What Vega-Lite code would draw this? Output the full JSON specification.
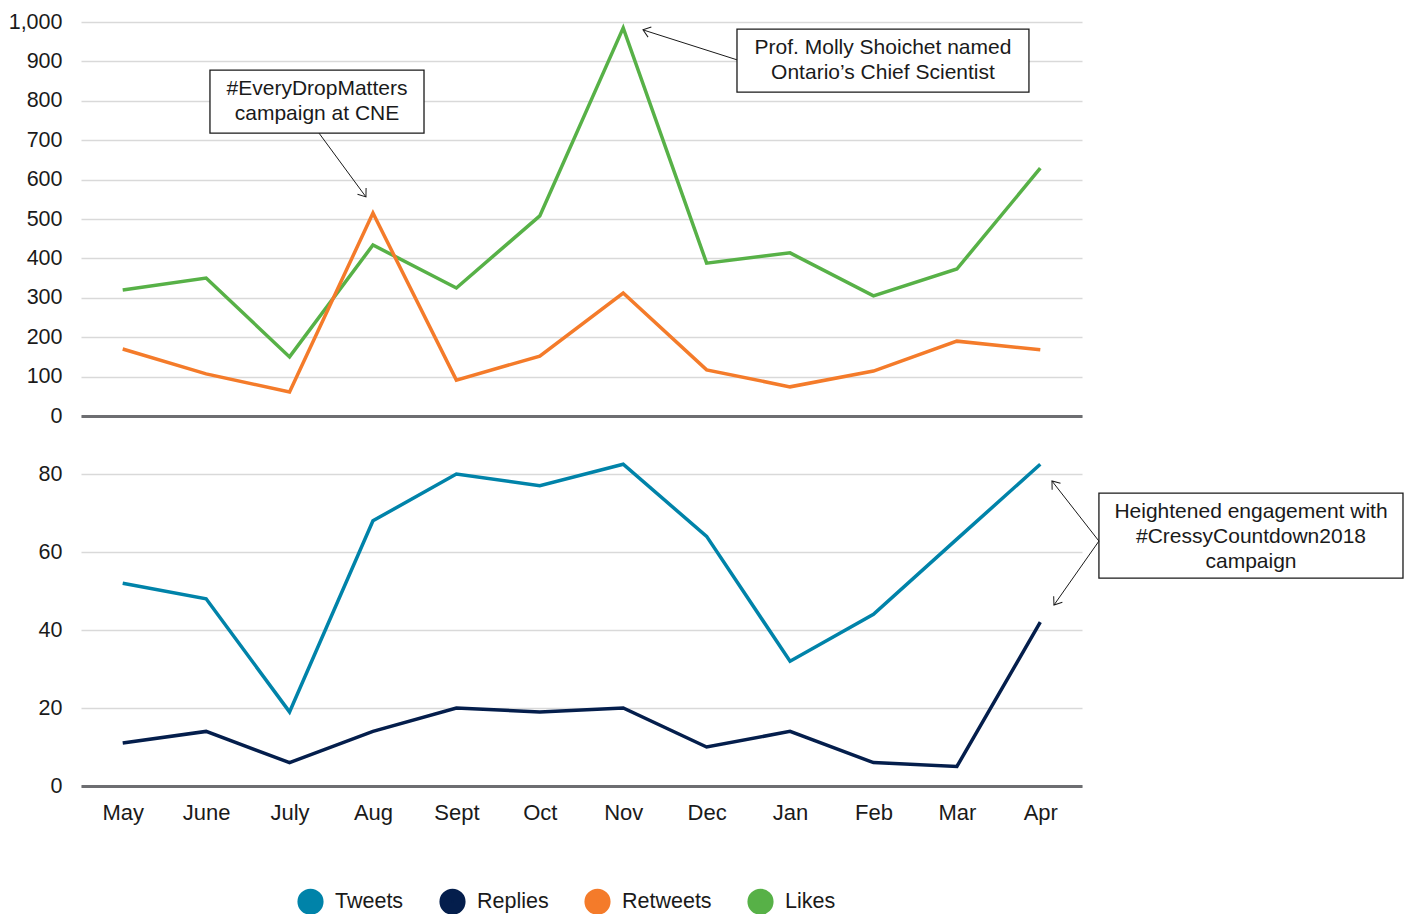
{
  "$schema": "https://vega.github.io/schema/vega-lite/v6.json",
  "padding": {"left": 8, "top": 11, "right": 0, "bottom": 0},
  "background": "white",
  "config": {
    "font": "Liberation Sans",
    "view": {"stroke": null},
    "axis": {"labelColor": "#1a1a1a", "labelFontSize": 21.5, "ticks": false, "title": null, "gridColor": "#d9d9d9", "gridWidth": 1.5, "labelOverlap": false},
    "legend": {"orient": "none", "legendX": 216, "legendY": 866, "direction": "horizontal", "symbolType": "circle", "symbolSize": 200, "symbolStrokeWidth": 12, "labelFontSize": 21.5, "labelColor": "#1a1a1a", "columnPadding": 17, "title": null, "labelOffset": 11}
  },
  "datasets": {
    "engagement": [
      {"month": "May", "series": "Likes", "value": 320},
      {"month": "June", "series": "Likes", "value": 350},
      {"month": "July", "series": "Likes", "value": 150},
      {"month": "Aug", "series": "Likes", "value": 434},
      {"month": "Sept", "series": "Likes", "value": 325},
      {"month": "Oct", "series": "Likes", "value": 508},
      {"month": "Nov", "series": "Likes", "value": 985},
      {"month": "Dec", "series": "Likes", "value": 388},
      {"month": "Jan", "series": "Likes", "value": 414},
      {"month": "Feb", "series": "Likes", "value": 305},
      {"month": "Mar", "series": "Likes", "value": 373},
      {"month": "Apr", "series": "Likes", "value": 629},
      {"month": "May", "series": "Retweets", "value": 170},
      {"month": "June", "series": "Retweets", "value": 107},
      {"month": "July", "series": "Retweets", "value": 61},
      {"month": "Aug", "series": "Retweets", "value": 515},
      {"month": "Sept", "series": "Retweets", "value": 91},
      {"month": "Oct", "series": "Retweets", "value": 152},
      {"month": "Nov", "series": "Retweets", "value": 312},
      {"month": "Dec", "series": "Retweets", "value": 117},
      {"month": "Jan", "series": "Retweets", "value": 74},
      {"month": "Feb", "series": "Retweets", "value": 114},
      {"month": "Mar", "series": "Retweets", "value": 190},
      {"month": "Apr", "series": "Retweets", "value": 168}
    ],
    "activity": [
      {"month": "May", "series": "Tweets", "value": 52},
      {"month": "June", "series": "Tweets", "value": 48},
      {"month": "July", "series": "Tweets", "value": 19},
      {"month": "Aug", "series": "Tweets", "value": 68},
      {"month": "Sept", "series": "Tweets", "value": 80},
      {"month": "Oct", "series": "Tweets", "value": 77},
      {"month": "Nov", "series": "Tweets", "value": 82.5},
      {"month": "Dec", "series": "Tweets", "value": 64},
      {"month": "Jan", "series": "Tweets", "value": 32},
      {"month": "Feb", "series": "Tweets", "value": 44},
      {"month": "Mar", "series": "Tweets", "value": 63.3},
      {"month": "Apr", "series": "Tweets", "value": 82.5},
      {"month": "May", "series": "Replies", "value": 11},
      {"month": "June", "series": "Replies", "value": 14},
      {"month": "July", "series": "Replies", "value": 6},
      {"month": "Aug", "series": "Replies", "value": 14},
      {"month": "Sept", "series": "Replies", "value": 20},
      {"month": "Oct", "series": "Replies", "value": 19},
      {"month": "Nov", "series": "Replies", "value": 20},
      {"month": "Dec", "series": "Replies", "value": 10},
      {"month": "Jan", "series": "Replies", "value": 14},
      {"month": "Feb", "series": "Replies", "value": 6},
      {"month": "Mar", "series": "Replies", "value": 5},
      {"month": "Apr", "series": "Replies", "value": 42}
    ]
  },
  "spacing": 8,
  "resolve": {"scale": {"color": "shared"}},
  "vconcat": [
    {
      "width": 1001,
      "height": 394,
      "resolve": {"scale": {"x": "independent"}},
      "layer": [
        {
          "data": {"name": "engagement"},
          "mark": {"type": "line", "strokeWidth": 3.5},
          "encoding": {
            "x": {"field": "month", "type": "ordinal", "sort": ["May","June","July","Aug","Sept","Oct","Nov","Dec","Jan","Feb","Mar","Apr"], "scale": {"type": "point", "padding": 0.5}, "axis": {"labels": false, "ticks": false, "grid": false, "domain": true, "domainColor": "#6d6e71", "domainWidth": 3, "title": null}},
            "y": {"field": "value", "type": "quantitative", "scale": {"domain": [0, 1000], "nice": false}, "axis": {"values": [0,100,200,300,400,500,600,700,800,900,1000], "format": ",d", "domain": false, "labelPadding": 19, "labelOverlap": false, "title": null}},
            "color": {"field": "series", "type": "nominal", "sort": ["Tweets","Replies","Retweets","Likes"], "scale": {"domain": ["Tweets","Replies","Retweets","Likes"], "range": ["#0083A9","#041E4C","#F47B2A","#57B147"]}, "legend": {"encode": {"symbols": {"update": {"fill": {"scale": "color", "field": "value"}}}}}}
          }
        },
        {
          "data": {"values": [{"x": 1.046, "x2": 3.612, "y": 718, "y2": 878}, {"x": 7.364, "x2": 10.864, "y": 822, "y2": 982}]},
          "mark": {"type": "rect", "fill": "white", "stroke": "#1a1a1a", "strokeWidth": 1.3},
          "encoding": {
            "x": {"field": "x", "type": "quantitative", "scale": {"domain": [-0.5, 11.5], "nice": false, "zero": false}, "axis": null},
            "x2": {"field": "x2"},
            "y": {"field": "y", "type": "quantitative", "scale": {"domain": [0, 1000], "nice": false}, "axis": {"values": [0,100,200,300,400,500,600,700,800,900,1000], "format": ",d", "domain": false, "labelPadding": 19, "labelOverlap": false, "title": null}},
            "y2": {"field": "y2"}
          }
        },
        {
          "data": {"values": [
            {"x": 2.329, "y": 830, "text": "#EveryDropMatters"},
            {"x": 2.329, "y": 766, "text": "campaign at CNE"},
            {"x": 9.114, "y": 934, "text": "Prof. Molly Shoichet named"},
            {"x": 9.114, "y": 871, "text": "Ontario’s Chief Scientist"}
          ]},
          "mark": {"type": "text", "fontSize": 21, "align": "center", "baseline": "middle", "color": "#1a1a1a"},
          "encoding": {
            "x": {"field": "x", "type": "quantitative", "scale": {"domain": [-0.5, 11.5], "nice": false, "zero": false}, "axis": null},
            "y": {"field": "y", "type": "quantitative", "scale": {"domain": [0, 1000], "nice": false}, "axis": {"values": [0,100,200,300,400,500,600,700,800,900,1000], "format": ",d", "domain": false, "labelPadding": 19, "labelOverlap": false, "title": null}},
            "text": {"field": "text"}
          }
        },
        {
          "data": {"values": [{"x": 2.353, "y": 718, "x2": 2.916, "y2": 556}, {"x": 7.364, "y": 904, "x2": 6.237, "y2": 980}]},
          "mark": {"type": "rule", "stroke": "#1a1a1a", "strokeWidth": 1},
          "encoding": {
            "x": {"field": "x", "type": "quantitative", "scale": {"domain": [-0.5, 11.5], "nice": false, "zero": false}, "axis": null},
            "x2": {"field": "x2"},
            "y": {"field": "y", "type": "quantitative", "scale": {"domain": [0, 1000], "nice": false}, "axis": {"values": [0,100,200,300,400,500,600,700,800,900,1000], "format": ",d", "domain": false, "labelPadding": 19, "labelOverlap": false, "title": null}},
            "y2": {"field": "y2"}
          }
        },
        {
          "data": {"values": [{"x": 2.916, "y": 556}]},
          "mark": {"type": "point", "shape": "M-1,-0.75L0,0L-1,0.75", "filled": false, "stroke": "#1a1a1a", "strokeWidth": 1, "size": 200, "angle": 54, "opacity": 1},
          "encoding": {
            "x": {"field": "x", "type": "quantitative", "scale": {"domain": [-0.5, 11.5], "nice": false, "zero": false}, "axis": null},
            "y": {"field": "y", "type": "quantitative", "scale": {"domain": [0, 1000], "nice": false}, "axis": {"values": [0,100,200,300,400,500,600,700,800,900,1000], "format": ",d", "domain": false, "labelPadding": 19, "labelOverlap": false, "title": null}}
          }
        },
        {
          "data": {"values": [{"x": 6.237, "y": 980}]},
          "mark": {"type": "point", "shape": "M-1,-0.75L0,0L-1,0.75", "filled": false, "stroke": "#1a1a1a", "strokeWidth": 1, "size": 200, "angle": 198, "opacity": 1},
          "encoding": {
            "x": {"field": "x", "type": "quantitative", "scale": {"domain": [-0.5, 11.5], "nice": false, "zero": false}, "axis": null},
            "y": {"field": "y", "type": "quantitative", "scale": {"domain": [0, 1000], "nice": false}, "axis": {"values": [0,100,200,300,400,500,600,700,800,900,1000], "format": ",d", "domain": false, "labelPadding": 19, "labelOverlap": false, "title": null}}
          }
        }
      ]
    },
    {
      "width": 1001,
      "height": 351,
      "resolve": {"scale": {"x": "independent"}},
      "layer": [
        {
          "data": {"name": "activity"},
          "mark": {"type": "line", "strokeWidth": 3.5},
          "encoding": {
            "x": {"field": "month", "type": "ordinal", "sort": ["May","June","July","Aug","Sept","Oct","Nov","Dec","Jan","Feb","Mar","Apr"], "scale": {"type": "point", "padding": 0.5}, "axis": {"labelAngle": 0, "labelFontSize": 22, "labelPadding": 16, "ticks": false, "grid": false, "domain": true, "domainColor": "#6d6e71", "domainWidth": 3, "title": null}},
            "y": {"field": "value", "type": "quantitative", "scale": {"domain": [0, 90], "nice": false}, "axis": {"values": [0,20,40,60,80], "domain": false, "labelPadding": 19, "title": null}},
            "color": {"field": "series", "type": "nominal", "sort": ["Tweets","Replies","Retweets","Likes"], "scale": {"domain": ["Tweets","Replies","Retweets","Likes"], "range": ["#0083A9","#041E4C","#F47B2A","#57B147"]}, "legend": {"encode": {"symbols": {"update": {"fill": {"scale": "color", "field": "value"}}}}}}
          }
        },
        {
          "data": {"values": [{"x": 11.703, "x2": 15.348, "y": 53.3, "y2": 75.1}]},
          "mark": {"type": "rect", "fill": "white", "stroke": "#1a1a1a", "strokeWidth": 1.3},
          "encoding": {
            "x": {"field": "x", "type": "quantitative", "scale": {"domain": [-0.5, 11.5], "nice": false, "zero": false}, "axis": null},
            "x2": {"field": "x2"},
            "y": {"field": "y", "type": "quantitative", "scale": {"domain": [0, 90], "nice": false}, "axis": {"values": [0,20,40,60,80], "domain": false, "labelPadding": 19, "title": null}},
            "y2": {"field": "y2"}
          }
        },
        {
          "data": {"values": [
            {"x": 13.526, "y": 70.3, "text": "Heightened engagement with"},
            {"x": 13.526, "y": 63.8, "text": "#CressyCountdown2018"},
            {"x": 13.526, "y": 57.4, "text": "campaign"}
          ]},
          "mark": {"type": "text", "fontSize": 21, "align": "center", "baseline": "middle", "color": "#1a1a1a"},
          "encoding": {
            "x": {"field": "x", "type": "quantitative", "scale": {"domain": [-0.5, 11.5], "nice": false, "zero": false}, "axis": null},
            "y": {"field": "y", "type": "quantitative", "scale": {"domain": [0, 90], "nice": false}, "axis": {"values": [0,20,40,60,80], "domain": false, "labelPadding": 19, "title": null}},
            "text": {"field": "text"}
          }
        },
        {
          "data": {"values": [{"x": 11.703, "y": 62.8, "x2": 11.14, "y2": 78.2}, {"x": 11.703, "y": 62.8, "x2": 11.164, "y2": 46.4}]},
          "mark": {"type": "rule", "stroke": "#1a1a1a", "strokeWidth": 1},
          "encoding": {
            "x": {"field": "x", "type": "quantitative", "scale": {"domain": [-0.5, 11.5], "nice": false, "zero": false}, "axis": null},
            "x2": {"field": "x2"},
            "y": {"field": "y", "type": "quantitative", "scale": {"domain": [0, 90], "nice": false}, "axis": {"values": [0,20,40,60,80], "domain": false, "labelPadding": 19, "title": null}},
            "y2": {"field": "y2"}
          }
        },
        {
          "data": {"values": [{"x": 11.14, "y": 78.2}]},
          "mark": {"type": "point", "shape": "M-1,-0.75L0,0L-1,0.75", "filled": false, "stroke": "#1a1a1a", "strokeWidth": 1, "size": 200, "angle": 232, "opacity": 1},
          "encoding": {
            "x": {"field": "x", "type": "quantitative", "scale": {"domain": [-0.5, 11.5], "nice": false, "zero": false}, "axis": null},
            "y": {"field": "y", "type": "quantitative", "scale": {"domain": [0, 90], "nice": false}, "axis": {"values": [0,20,40,60,80], "domain": false, "labelPadding": 19, "title": null}}
          }
        },
        {
          "data": {"values": [{"x": 11.164, "y": 46.4}]},
          "mark": {"type": "point", "shape": "M-1,-0.75L0,0L-1,0.75", "filled": false, "stroke": "#1a1a1a", "strokeWidth": 1, "size": 200, "angle": 125, "opacity": 1},
          "encoding": {
            "x": {"field": "x", "type": "quantitative", "scale": {"domain": [-0.5, 11.5], "nice": false, "zero": false}, "axis": null},
            "y": {"field": "y", "type": "quantitative", "scale": {"domain": [0, 90], "nice": false}, "axis": {"values": [0,20,40,60,80], "domain": false, "labelPadding": 19, "title": null}}
          }
        }
      ]
    }
  ]
}
